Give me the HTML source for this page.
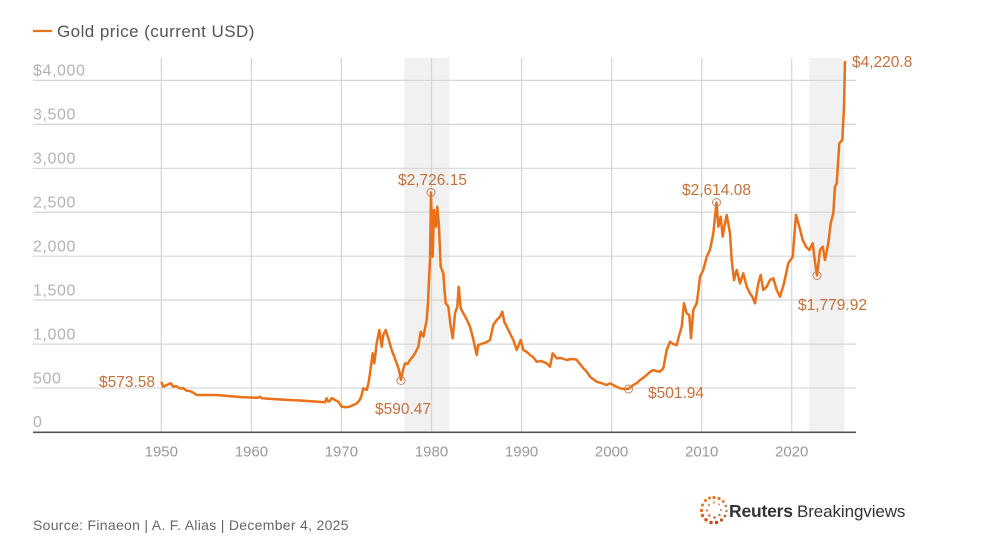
<!DOCTYPE html>
<html><head><meta charset="utf-8"><style>
html,body{margin:0;padding:0;background:#fff;}
svg{display:block;}
</style></head><body>
<svg width="989" height="548" viewBox="0 0 989 548" xmlns="http://www.w3.org/2000/svg" font-family="'Liberation Sans', sans-serif">
<rect width="989" height="548" fill="#fff"/>
<!-- legend -->
<line x1="33" y1="31" x2="52" y2="31" stroke="#e8731f" stroke-width="2.2"/>
<text x="57" y="37" font-size="17" fill="#555" letter-spacing="0.45">Gold price (current USD)</text>
<!-- shaded -->
<rect x="404.3" y="58" width="45" height="374" fill="#f1f1f1"/>
<rect x="809.3" y="58" width="35" height="374" fill="#f1f1f1"/>
<!-- grid -->
<g stroke="#d6d6d6" stroke-width="1.2">
<line x1="33" y1="388.05" x2="856" y2="388.05"/>
<line x1="33" y1="344.1" x2="856" y2="344.1"/>
<line x1="33" y1="300.15" x2="856" y2="300.15"/>
<line x1="33" y1="256.2" x2="856" y2="256.2"/>
<line x1="33" y1="212.25" x2="856" y2="212.25"/>
<line x1="33" y1="168.3" x2="856" y2="168.3"/>
<line x1="33" y1="124.35" x2="856" y2="124.35"/>
<line x1="33" y1="80.4" x2="856" y2="80.4"/>
<line x1="161.3" y1="58" x2="161.3" y2="432"/>
<line x1="251.4" y1="58" x2="251.4" y2="432"/>
<line x1="341.4" y1="58" x2="341.4" y2="432"/>
<line x1="431.5" y1="58" x2="431.5" y2="432"/>
<line x1="521.6" y1="58" x2="521.6" y2="432"/>
<line x1="611.6" y1="58" x2="611.6" y2="432"/>
<line x1="701.7" y1="58" x2="701.7" y2="432"/>
<line x1="791.7" y1="58" x2="791.7" y2="432"/>
</g>
<line x1="33" y1="432.3" x2="856" y2="432.3" stroke="#555" stroke-width="1.6"/>
<!-- y labels -->
<g font-size="16" fill="#b3b3b3" letter-spacing="0.6">
<text x="33" y="75.5">$4,000</text>
<text x="33" y="119.5">3,500</text>
<text x="33" y="163.5">3,000</text>
<text x="33" y="207.5">2,500</text>
<text x="33" y="251.5">2,000</text>
<text x="33" y="295.5">1,500</text>
<text x="33" y="339.5">1,000</text>
<text x="33" y="383.5">500</text>
<text x="33" y="427">0</text>
</g>
<!-- x labels -->
<g font-size="15" fill="#999" text-anchor="middle">
<text x="161.3" y="456.5">1950</text>
<text x="251.4" y="456.5">1960</text>
<text x="341.4" y="456.5">1970</text>
<text x="431.5" y="456.5">1980</text>
<text x="521.6" y="456.5">1990</text>
<text x="611.6" y="456.5">2000</text>
<text x="701.7" y="456.5">2010</text>
<text x="791.7" y="456.5">2020</text>
</g>
<!-- series -->
<polyline fill="none" stroke="#e8711a" stroke-width="2.5" stroke-linejoin="round" points="161.3,381.7 163.3,386.7 166.7,385 170.7,383.3 173.3,386.7 176,386 180,388.5 183,388 186.7,390.7 190,391 193,392.5 196.7,395 206,395 216.7,395 228,396 240,397 250,397.5 258,397.8 260,396.8 262,398.3 280,399.5 300,400.5 315,401.5 325,402.3 326.7,398.3 328,401.5 330,401 331.5,398.2 333.3,398.7 335,400 338.3,401.7 341.7,406.7 346.7,407.3 350,406.5 353.3,405 356,404 358.3,401.7 360,399.5 361.7,395 363.3,388.3 366.7,390 368.5,383 370,373.3 372.7,353.3 374.3,363.3 376.7,343.3 379.3,330 381.7,346.7 383.3,335 385.7,330 388.3,338.3 391.7,350 394,356 396.7,363.3 399,370 401,380 403,370 405,363.3 407.5,364 410,360 412.5,357 415,353.3 418.3,346.7 420.7,331.7 423.3,336.7 426.7,320 428,303 429,280 430,260 431,192.5 432.7,256.7 434,210 436,226.7 437.3,206.7 439,226.7 440.7,266.7 443.3,273.3 444.5,290 445.7,303.3 448.3,306.7 450.7,326.7 452.7,338.3 455,313.3 457.3,306.7 458.7,286.7 460.7,308.3 463.3,313.3 466,318 470,326.7 473,338 476.7,355 478.3,345 483.3,343.3 487,342 490,340 493.3,325 496.7,320 500,316.7 502.3,311.7 504.3,321.7 506.7,326.7 510,333.3 513.3,340 516.7,350 520.7,340 523.3,350 527,352 530,355 533,357 536.7,361.7 541,361 546.7,363.3 550,366.7 552.7,353.3 556.7,358.3 561,358 566.7,360 571,359 576,359.3 580,364 583.3,368.3 587,372 590,376.7 593,379 596.7,381.7 601,383 606.7,385 610,383.3 615,386 620,388.3 624,389 628,389 633.3,385 637,383 640,380 643,378 646.7,375 650,372 653.3,370 656,371 660,371.7 663.3,368.3 666.7,350 670,341.7 673,344 676.7,345 679,336 681.7,326.7 684,303.3 686.7,313.3 689.3,315 691,338.3 693.3,310 696.7,303.3 698.5,290 700,276.7 703.3,270 706.7,256.7 710,250 713.3,233.3 716.5,202.5 718.3,226.7 720.7,216.7 722.7,236.7 725,223.3 726.7,215 730,233.3 731.7,260 734,280 736.7,270 740,283.3 743.3,273.3 746.7,286.7 750,293.3 752.5,297 755,303.3 758.3,283.3 760.7,275 763.3,290 766.7,286.7 770,280 773.3,278.3 776.7,290 780,296.7 784,283.3 788.3,263.3 792.7,256.7 796,215 799.3,226.7 802.7,240 806,246.7 809.3,250 812.7,243.3 815,262 817,275.5 820,250 822.7,246.7 825,260 828.3,243.3 830.7,223.3 833.3,213.3 835,186.7 836.7,183.3 839.3,143.3 842.3,140 844,106.7 845,61"/>
<!-- markers -->
<g fill="none" stroke="#c98058" stroke-width="1">
<circle cx="401" cy="380.5" r="4"/>
<circle cx="431" cy="192.5" r="4"/>
<circle cx="628.5" cy="389" r="4"/>
<circle cx="716.5" cy="202.5" r="4"/>
<circle cx="817" cy="275.5" r="4"/>
</g>
<!-- annotations -->
<g font-size="15.5" fill="#c4703c">
<text x="155" y="387" text-anchor="end">$573.58</text>
<text x="375" y="414">$590.47</text>
<text x="398" y="185">$2,726.15</text>
<text x="648" y="398">$501.94</text>
<text x="682" y="195">$2,614.08</text>
<text x="798" y="310">$1,779.92</text>
<text x="852" y="67">$4,220.8</text>
</g>
<!-- source -->
<text x="33" y="530" font-size="14" fill="#666" letter-spacing="0.3">Source: Finaeon | A. F. Alias | December 4, 2025</text>
<!-- logo -->
<g>
<circle cx="714" cy="497.5" r="1.6" fill="#e8731f"/>
<circle cx="719" cy="498.5" r="1.6" fill="#e07a2a"/>
<circle cx="723.3" cy="501.5" r="1.5" fill="#d9853b"/>
<circle cx="725.8" cy="506" r="1.4" fill="#c98a55"/>
<circle cx="726.5" cy="511" r="1.3" fill="#b98a6a"/>
<circle cx="725" cy="516" r="1.4" fill="#b7623a"/>
<circle cx="721.5" cy="520" r="1.6" fill="#b4542a"/>
<circle cx="716.5" cy="522.5" r="1.7" fill="#b54b20"/>
<circle cx="711" cy="522.5" r="1.8" fill="#c04e1c"/>
<circle cx="706" cy="519.8" r="1.8" fill="#d0571c"/>
<circle cx="702.5" cy="515.5" r="1.7" fill="#dd631d"/>
<circle cx="701.5" cy="510.5" r="1.6" fill="#e66c1e"/>
<circle cx="702.5" cy="505" r="1.5" fill="#e8731f"/>
<circle cx="705.5" cy="500.5" r="1.5" fill="#e8781f"/>
<circle cx="709.5" cy="498" r="1.5" fill="#ea7b22"/>
<circle cx="714" cy="502.5" r="1.2" fill="#e9a070"/>
<circle cx="719" cy="504.5" r="1.1" fill="#d9a080"/>
<circle cx="721" cy="510" r="1.1" fill="#c8a090"/>
<circle cx="719.5" cy="515" r="1.2" fill="#c07050"/>
<circle cx="714.5" cy="517.5" r="1.3" fill="#c06040"/>
<circle cx="709.3" cy="515.5" r="1.3" fill="#d07040"/>
<circle cx="707" cy="510.5" r="1.2" fill="#e08050"/>
<circle cx="709" cy="505" r="1.2" fill="#e89060"/>
</g>
<text x="729" y="517" font-size="17.5" font-weight="bold" fill="#333" letter-spacing="-0.2">Reuters</text>
<text x="797" y="517" font-size="17" fill="#333" letter-spacing="-0.1">Breakingviews</text>
</svg>
</body></html>
